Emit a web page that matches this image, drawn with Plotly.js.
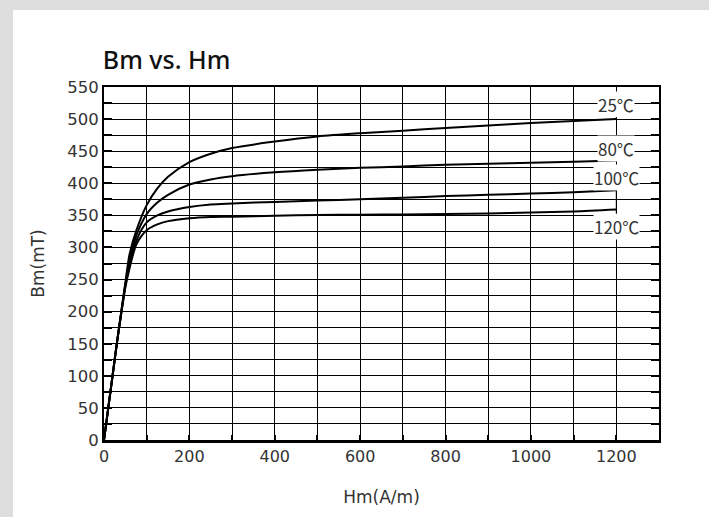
<!DOCTYPE html>
<html>
<head>
<meta charset="utf-8">
<script src="https://cdn.plot.ly/plotly-3.0.1.min.js"></script>
<style>
html,body{margin:0;padding:0;background:#dcdddc;width:709px;height:517px;overflow:hidden;}
#chart{position:absolute;left:13px;top:10px;width:696px;height:507px;background:#fff;}
</style>
</head>
<body>
<div id="chart"></div>
<script>
const H = [0,10,20,30,40,50,60,76,100,125,150,200,250,300,400,500,600,700,800,900,1000,1100,1200];
const B25  = [0,50,100,150,198,245,290,327,366,392,410,433,446,455,465,473,478,482,486,490,494,497,500];
const B80  = [0,50,100,150,197,242,280,319,352,370,382,398,406,411,417,421,424,426,429,430.5,432,433.5,435.5];
const B100 = [0,50,100,150,196,240,272,311,339,350,356,363,367,368.5,371,373,375,377.5,380,382,384,386,389];
const B120 = [0,50,100,150,195,238,268,305,327,336,341,345.5,347.5,348,349.5,350.5,351,351.5,352,353,354.5,356,359];
const seriesNames = ['25℃','80℃','100℃','120℃'];
const seriesB = [B25,B80,B100,B120];
const labelOffsets = [-15,-12,-13,17];

const fontFam = '"DejaVu Sans", sans-serif';
const labelFam = '"Noto Sans CJK JP", sans-serif';
const traces = seriesB.map((b,i)=>({
  x:H, y:b, type:'scatter', mode:'lines', name:seriesNames[i],
  line:{color:'#000', width:2, shape:'spline', smoothing:0.8},
  hoverinfo:'skip'
}));

const last = H.length-1;
const annotations = seriesB.map((b,i)=>({
  x:H[last], y:b[last], xref:'x', yref:'y',
  text:seriesNames[i], showarrow:true, arrowhead:0, arrowwidth:1, arrowcolor:'#000',
  ax:0, ay:labelOffsets[i], standoff:0, startstandoff:0,
  bgcolor:'#fff', borderpad:0,
  font:{family:labelFam, size:17, color:'#333'}
}));

const shapes = [{
  type:'line', xref:'x', yref:'y',
  x0:H[last], x1:H[last], y0:B100[last], y1:B120[last],
  line:{color:'#000', width:1}
}];

const layout = {
  width:696, height:507,
  margin:{l:91, r:50, t:77, b:77},
  paper_bgcolor:'#fff', plot_bgcolor:'#fff',
  showlegend:false,
  title:{text:'Bm vs. Hm', x:0.129, xanchor:'left', y:0.9, yanchor:'middle',
    font:{family:'"Noto Sans", sans-serif', size:25, color:'#111', weight:500}},
  xaxis:{
    range:[0,1300], dtick:200, tick0:0,
    showgrid:true, gridcolor:'#000', gridwidth:1,
    ticks:'inside', ticklen:5, tickwidth:2, tickcolor:'#000',
    showline:true, linecolor:'#000', linewidth:2.5, mirror:true,
    zeroline:false,
    minor:{dtick:100, showgrid:true, gridcolor:'#000', gridwidth:1, ticks:'inside', ticklen:5, tickwidth:2, tickcolor:'#000'},
    tickfont:{family:fontFam, size:16, color:'#333'},
    title:{text:'Hm(A/m)', font:{family:fontFam, size:17, color:'#333'}, standoff:27}
  },
  yaxis:{
    range:[0,550], dtick:50, tick0:0,
    showgrid:true, gridcolor:'#000', gridwidth:1,
    ticks:'inside', ticklen:8, tickwidth:2, tickcolor:'#000',
    showline:true, linecolor:'#000', linewidth:2, mirror:'ticks',
    zeroline:false,
    minor:{dtick:25, showgrid:true, gridcolor:'#000', gridwidth:1, ticks:'inside', ticklen:8, tickwidth:2, tickcolor:'#000'},
    tickfont:{family:fontFam, size:16.5, color:'#333'},
    title:{text:'Bm(mT)', font:{family:fontFam, size:17, color:'#333'}, standoff:18}
  },
  annotations:annotations,
  shapes:shapes
};

Plotly.newPlot('chart', traces, layout, {displayModeBar:false, staticPlot:true});
</script>
</body>
</html>
